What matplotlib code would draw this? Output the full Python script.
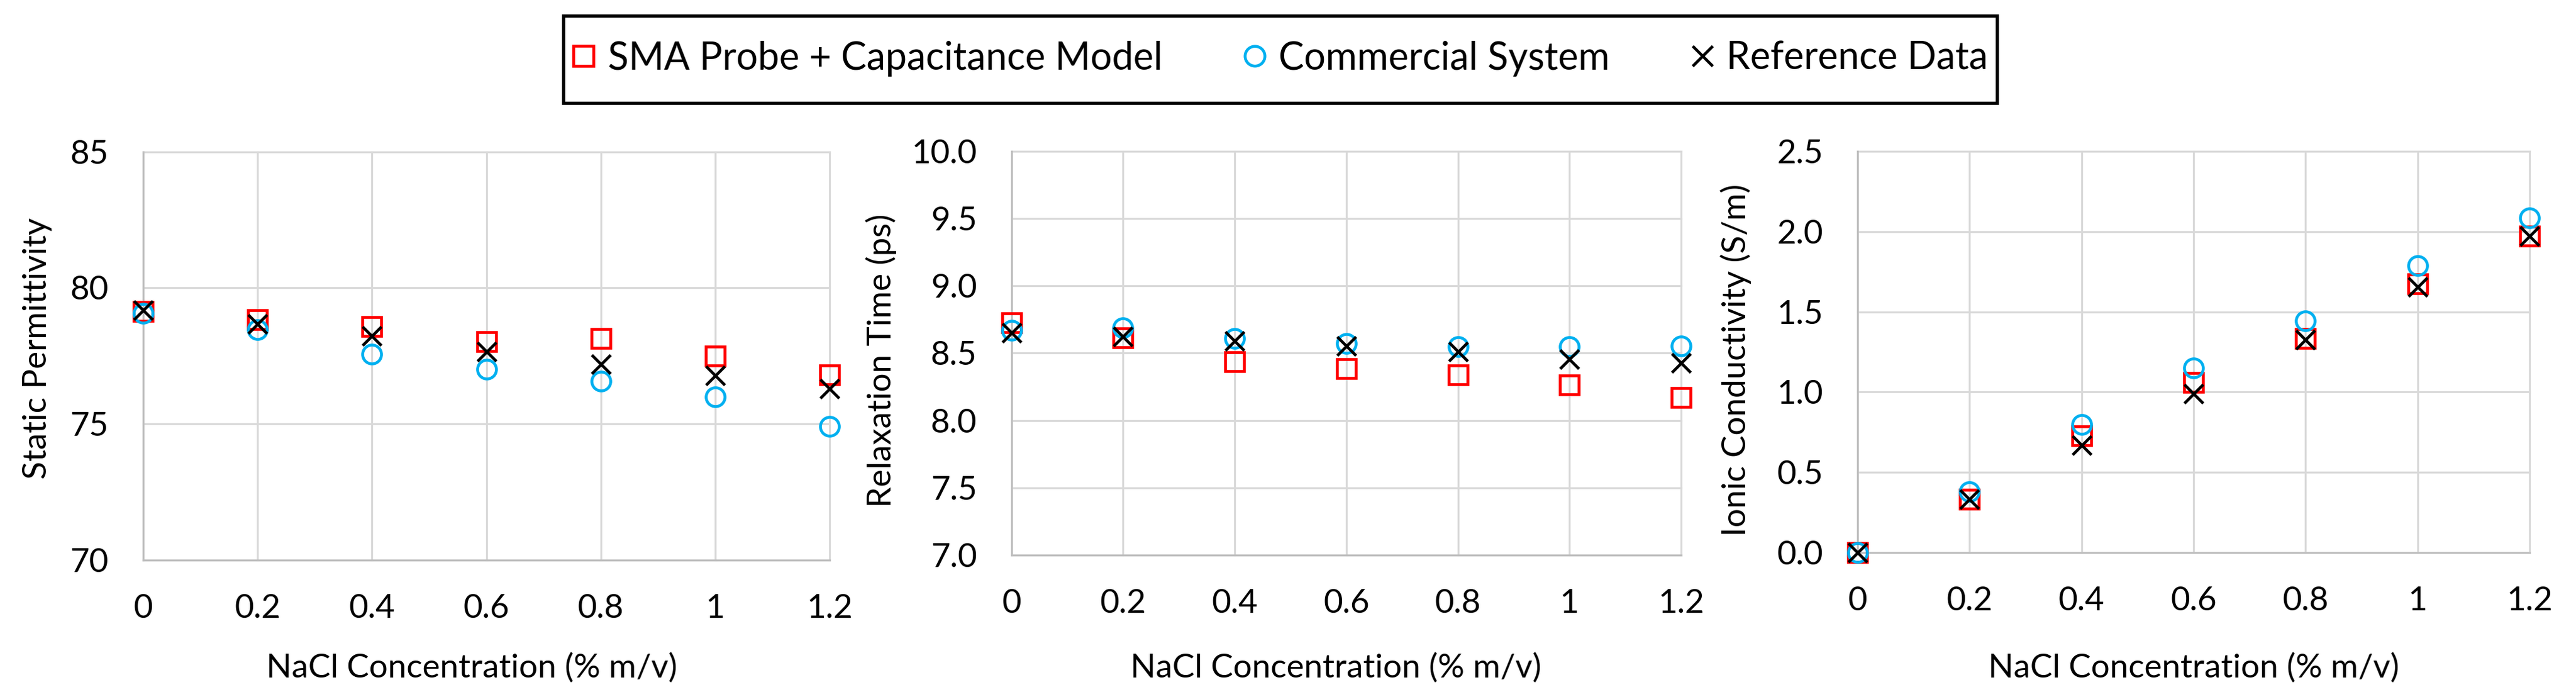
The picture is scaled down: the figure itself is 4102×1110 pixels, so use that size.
import matplotlib
matplotlib.use("Agg")
import matplotlib.pyplot as plt
from matplotlib.lines import Line2D
from matplotlib.patches import Rectangle

plt.rcParams['font.family'] = ['Lato', 'DejaVu Sans']

# ---------------- data ----------------
conc = [0, 0.2, 0.4, 0.6, 0.8, 1.0, 1.2]
x_ticks = [0, 0.2, 0.4, 0.6, 0.8, 1.0, 1.2]
x_ticklabels = ["0", "0.2", "0.4", "0.6", "0.8", "1", "1.2"]

perm_sma = [79.12, 78.84, 78.57, 78.02, 78.14, 77.50, 76.79]
perm_com = [79.07, 78.46, 77.57, 77.00, 76.57, 75.98, 74.90]
perm_ref = [79.18, 78.66, 78.23, 77.66, 77.20, 76.77, 76.28]

relax_sma = [8.725, 8.615, 8.435, 8.388, 8.338, 8.264, 8.173]
relax_com = [8.670, 8.687, 8.610, 8.573, 8.551, 8.548, 8.554]
relax_ref = [8.651, 8.623, 8.590, 8.554, 8.513, 8.457, 8.430]

cond_sma = [0.000, 0.332, 0.727, 1.060, 1.336, 1.675, 1.973]
cond_com = [0.000, 0.379, 0.797, 1.150, 1.443, 1.789, 2.086]
cond_ref = [0.000, 0.332, 0.669, 0.990, 1.327, 1.653, 1.970]

perm_yticks = [70, 75, 80, 85]
relax_yticks = [7.0, 7.5, 8.0, 8.5, 9.0, 9.5, 10.0]
cond_yticks = [0.0, 0.5, 1.0, 1.5, 2.0, 2.5]

series_labels = ["SMA Probe + Capacitance Model", "Commercial System", "Reference Data"]
xlabel = "NaCl Concentration (% m/v)"
ylabels = ["Static Permittivity", "Relaxation Time (ps)", "Ionic Conductivity (S/m)"]

# ---------------- style ----------------
W, H = 4102, 1110
DPI = 300
RED = "#FF0000"
BLUE = "#00B0F0"
BLACK = "#000000"
GRID = "#D9D9D9"
SPINE = "#BFBFBF"
AX_FS = 12.7
LEG_FS = 14.6
MS = 7.2
MEW = 1.1

fig = plt.figure(figsize=(W / DPI, H / DPI), dpi=DPI)
fig.patch.set_facecolor("white")


def px_axes(left, top, right, bottom):
    return [left / W, 1 - bottom / H, (right - left) / W, (bottom - top) / H]


# pixel boxes (left, top, right, bottom)
boxes = [(228, 241.7, 1321, 891.5), (1610.5, 241, 2677, 884), (2958, 241, 4028, 880)]
ylab_x = [-0.1327, -0.1711, -0.1579]
ylab_y = [0.518, 0.482, 0.480]
xlab_x = [0.4785, 0.4843, 0.5]
xlab_y = [-0.2285, -0.2426, -0.2504]

panels = [
    (perm_sma, perm_com, perm_ref, perm_yticks, (70, 85), "{:.0f}"),
    (relax_sma, relax_com, relax_ref, relax_yticks, (7.0, 10.0), "{:.1f}"),
    (cond_sma, cond_com, cond_ref, cond_yticks, (0.0, 2.5), "{:.1f}"),
]

for i, (sma, com, ref, yt, ylim, fmt) in enumerate(panels):
    ax = fig.add_axes(px_axes(*boxes[i]))
    ax.set_facecolor("white")
    ax.plot(conc, sma, ls="none", marker="s", ms=MS, mfc="none", mec=RED, mew=MEW,
            clip_on=False, zorder=3)
    ax.plot(conc, com, ls="none", marker="o", ms=MS, mfc="none", mec=BLUE, mew=MEW,
            clip_on=False, zorder=4)
    ax.plot(conc, ref, ls="none", marker="x", ms=MS, mec=BLACK, mew=MEW,
            clip_on=False, zorder=5)
    ax.set_xlim(0, 1.2)
    ax.set_ylim(*ylim)
    ax.set_xticks(x_ticks)
    ax.set_xticklabels(x_ticklabels)
    ax.set_yticks(yt)
    ax.set_yticklabels([fmt.format(v) for v in yt])
    ax.grid(True, color=GRID, lw=0.75, clip_on=False)
    ax.set_axisbelow(True)
    for s in ("top", "right"):
        ax.spines[s].set_visible(False)
    for s in ("left", "bottom"):
        ax.spines[s].set_color(SPINE)
        ax.spines[s].set_linewidth(0.75)
        ax.spines[s].set_zorder(2.5)
    ax.tick_params(axis="both", length=0, labelsize=AX_FS, colors=BLACK)
    ax.tick_params(axis="x", pad=13)
    ax.tick_params(axis="y", pad=13.2)
    ax.set_xlabel(xlabel, fontsize=AX_FS, color=BLACK)
    ax.set_ylabel(ylabels[i], fontsize=AX_FS, color=BLACK)
    ax.xaxis.set_label_coords(xlab_x[i], xlab_y[i])
    ax.yaxis.set_label_coords(ylab_x[i], ylab_y[i])

# ---------------- legend ----------------
handles = [
    Line2D([], [], ls="none", marker="s", ms=MS, mfc="none", mec=RED, mew=MEW),
    Line2D([], [], ls="none", marker="o", ms=MS, mfc="none", mec=BLUE, mew=MEW),
    Line2D([], [], ls="none", marker="x", ms=MS, mec=BLACK, mew=MEW),
]
fig.legend(handles, series_labels, loc="center left",
           bbox_to_anchor=(911 / W, 1 - 93 / H), ncol=3, frameon=False,
           fontsize=LEG_FS, borderpad=0, borderaxespad=0, handlelength=0.6,
           handletextpad=0.33, columnspacing=2.12, markerscale=1.05)
fig.patches.append(Rectangle((894 / W + 2.6 / W, 1 - 167 / H + 2.6 / H),
                             (3183 - 894 - 5.2) / W, (167 - 22 - 5.2) / H,
                             transform=fig.transFigure, fill=False,
                             edgecolor="black", lw=1.25, zorder=10))

fig.savefig("out.png", dpi=DPI, facecolor="white")
